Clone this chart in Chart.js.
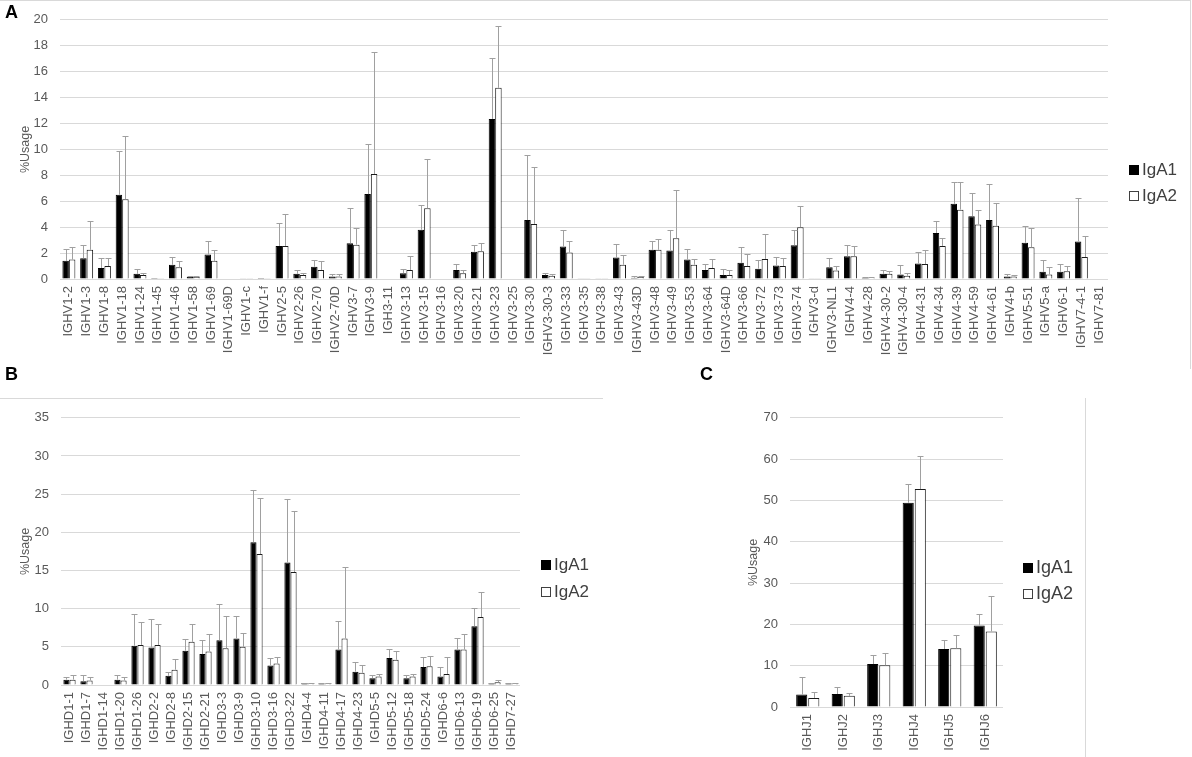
<!DOCTYPE html>
<html>
<head>
<meta charset="utf-8">
<title>%Usage IgA1 / IgA2</title>
<script src="https://cdn.jsdelivr.net/npm/chart.js@4.4.1/dist/chart.umd.min.js"></script>
<style>
  html, body { margin: 0; padding: 0; background: #fff; }
  body { width: 1192px; height: 757px; position: relative; overflow: hidden;
         font-family: "Liberation Sans", Arial, sans-serif; }
  canvas { position: absolute; }
  .frame { position: absolute; border: 0 solid #d9d9d9; }
  .letter { position: absolute; font-weight: bold; font-size: 18px; line-height: 1; color: #000; }
  .legend { position: absolute; font-size: 17px; color: #404040; }
  .legend div { position: absolute; white-space: nowrap; line-height: 20px; height: 20px; }
  .legend span.box { display: inline-block; width: 10px; height: 10px; box-sizing: border-box;
                     margin-right: 3px; vertical-align: 0px; }
</style>
</head>
<body>

<div class="frame" style="left:0;top:0;width:1190px;height:368px;border-top-width:1px;border-right-width:1px;"></div>
<div class="frame" style="left:0;top:398px;width:603px;height:0;border-top-width:1px;"></div>
<div class="frame" style="left:1085px;top:398px;width:0;height:359px;border-left-width:1px;"></div>

<canvas id="chartV" width="1192" height="370" style="left:0;top:0;"></canvas>
<canvas id="chartD" width="603" height="359" style="left:0;top:398px;"></canvas>
<canvas id="chartJ" width="358" height="359" style="left:728px;top:398px;"></canvas>

<div class="letter" style="left:5px;top:3px;">A</div>
<div class="letter" style="left:5px;top:365px;">B</div>
<div class="letter" style="left:700px;top:365px;">C</div>

<div class="legend" style="left:1129px;top:160px;">
  <div style="top:0;"><span class="box" style="background:#000;"></span>IgA1</div>
  <div style="top:26px;"><span class="box" style="background:#fff;border:1px solid #404040;"></span>IgA2</div>
</div>
<div class="legend" style="left:541px;top:555px;">
  <div style="top:0;"><span class="box" style="background:#000;"></span>IgA1</div>
  <div style="top:27px;"><span class="box" style="background:#fff;border:1px solid #404040;"></span>IgA2</div>
</div>
<div class="legend" style="left:1023px;top:557px;font-size:18px;">
  <div style="top:0;"><span class="box" style="background:#000;"></span>IgA1</div>
  <div style="top:26px;"><span class="box" style="background:#fff;border:1px solid #404040;"></span>IgA2</div>
</div>

<script>
// Panel A - IGHV genes
const vGenes = ['IGHV1-2', 'IGHV1-3', 'IGHV1-8', 'IGHV1-18', 'IGHV1-24', 'IGHV1-45', 'IGHV1-46', 'IGHV1-58',
  'IGHV1-69', 'IGHV1-69D', 'IGHV1-c', 'IGHV1-f', 'IGHV2-5', 'IGHV2-26', 'IGHV2-70', 'IGHV2-70D', 'IGHV3-7',
  'IGHV3-9', 'IGH3-11', 'IGHV3-13', 'IGHV3-15', 'IGHV3-16', 'IGHV3-20', 'IGHV3-21', 'IGHV3-23', 'IGHV3-25',
  'IGHV3-30', 'IGHV3-30-3', 'IGHV3-33', 'IGHV3-35', 'IGHV3-38', 'IGHV3-43', 'IGHV3-43D', 'IGHV3-48',
  'IGHV3-49', 'IGHV3-53', 'IGHV3-64', 'IGHV3-64D', 'IGHV3-66', 'IGHV3-72', 'IGHV3-73', 'IGHV3-74', 'IGHV3-d',
  'IGHV3-NL1', 'IGHV4-4', 'IGHV4-28', 'IGHV4-30-2', 'IGHV4-30-4', 'IGHV4-31', 'IGHV4-34', 'IGHV4-39',
  'IGHV4-59', 'IGHV4-61', 'IGHV4-b', 'IGHV5-51', 'IGHV5-a', 'IGHV6-1', 'IGHV7-4-1', 'IGHV7-81'];
const vIgA1 = [1.4, 1.6, 0.85, 6.5, 0.4, 0.08, 1.1, 0.15, 1.9, 0.03, 0.05, 0.07, 2.55, 0.4, 0.95, 0.2, 2.75,
  6.55, 0, 0.45, 3.8, 0.03, 0.7, 2.1, 12.35, 0.03, 4.55, 0.3, 2.5, 0.02, 0.02, 1.65, 0.1, 2.25, 2.2, 1.5, 0.7,
  0.3, 1.25, 0.8, 1.05, 2.6, 0.02, 0.9, 1.75, 0.1, 0.4, 0.35, 1.2, 3.55, 5.8, 4.85, 4.55, 0.2, 2.8, 0.55,
  0.55, 2.9, 0.03];
const vIgA2 = [1.5, 2.25, 1.0, 6.15, 0.3, 0.05, 0.9, 0.15, 1.4, 0.03, 0.05, 0.05, 2.55, 0.3, 0.7, 0.2, 2.65,
  8.1, 0, 0.7, 5.45, 0.03, 0.45, 2.15, 14.75, 0.03, 4.25, 0.25, 2.05, 0.02, 0.02, 1.1, 0.15, 2.25, 3.15, 1.1,
  0.85, 0.3, 1.0, 1.55, 1.0, 4.0, 0.02, 0.65, 1.75, 0.1, 0.4, 0.25, 1.15, 2.55, 5.35, 4.2, 4.1, 0.2, 2.45,
  0.35, 0.6, 1.7, 0.03];
// standard deviations (upper error bar), 0 = no bar
const vIgA1Sd = [0.9, 1.0, 0.75, 3.35, 0.4, 0, 0.6, 0.1, 1.0, 0, 0, 0, 1.8, 0.3, 0.55, 0.15, 2.75,
  3.85, 0, 0.35, 1.9, 0, 0.45, 0.5, 4.7, 0, 5.05, 0.15, 1.25, 0, 0, 1.05, 0.1, 0.65, 1.55, 0.85, 0.45,
  0.5, 1.25, 0.7, 0.65, 1.15, 0, 0.7, 0.9, 0.02, 0.3, 0.7, 0.85, 0.95, 1.7, 1.8, 2.75, 0.15, 1.3, 0.9,
  0.6, 3.35, 0];
const vIgA2Sd = [1.0, 2.25, 0.6, 4.85, 0.2, 0, 0.5, 0.1, 0.8, 0, 0, 0, 2.45, 0.2, 0.7, 0.15, 1.25,
  9.4, 0, 1.1, 3.8, 0, 0.25, 0.65, 4.75, 0, 4.4, 0.1, 0.9, 0, 0, 0.75, 0.05, 0.8, 3.75, 0.45, 0.7,
  0.4, 0.95, 1.95, 0.6, 1.65, 0, 0.35, 0.8, 0.02, 0.2, 0.2, 1.1, 0.6, 2.15, 1.15, 1.8, 0.1, 1.45, 0.55,
  0.4, 1.6, 0];

// Panel B - IGHD genes
const dGenes = ['IGHD1-1', 'IGHD1-7', 'IGHD1-14', 'IGHD1-20', 'IGHD1-26', 'IGHD2-2', 'IGHD2-8', 'IGHD2-15',
  'IGHD2-21', 'IGHD3-3', 'IGHD3-9', 'IGHD3-10', 'IGHD3-16', 'IGHD3-22', 'IGHD4-4', 'IGHD4-11', 'IGHD4-17',
  'IGHD4-23', 'IGHD5-5', 'IGHD5-12', 'IGHD5-18', 'IGHD5-24', 'IGHD6-6', 'IGHD6-13', 'IGHD6-19', 'IGHD6-25',
  'IGHD7-27'];
const dIgA1 = [0.7, 0.5, 0.05, 0.7, 5.15, 4.9, 1.2, 4.5, 4.05, 5.85, 6.1, 18.7, 2.55, 16.05, 0.25, 0.2, 4.65,
  1.75, 0.9, 3.55, 0.9, 2.35, 1.1, 4.65, 7.7, 0.2, 0.2];
const dIgA2 = [0.7, 0.6, 0.05, 0.6, 5.25, 5.25, 2.0, 5.65, 4.4, 4.8, 5.0, 17.15, 2.8, 14.8, 0.2, 0.2, 6.1,
  1.6, 1.1, 3.3, 1.1, 2.45, 1.45, 4.65, 8.9, 0.35, 0.2];
const dIgA1Sd = [0.4, 0.75, 0, 0.65, 4.2, 3.7, 0.55, 1.5, 1.8, 4.8, 3.0, 6.8, 1.0, 8.3, 0.05, 0.05, 3.7,
  1.2, 0.45, 1.2, 0.45, 1.3, 1.25, 1.45, 2.45, 0.1, 0.1];
const dIgA2Sd = [0.55, 0.4, 0, 0.5, 3.05, 2.8, 1.4, 2.4, 2.3, 4.3, 1.75, 7.3, 0.85, 8.0, 0.1, 0.05, 9.35,
  1.0, 0.4, 1.1, 0.4, 1.35, 2.2, 2.05, 3.25, 0.25, 0.1];

// Panel C - IGHJ genes
const jGenes = ['IGHJ1', 'IGHJ2', 'IGHJ3', 'IGHJ4', 'IGHJ5', 'IGHJ6'];
const jIgA1 = [3.0, 3.15, 10.4, 49.45, 14.05, 19.75];
const jIgA2 = [2.2, 2.7, 10.1, 52.75, 14.2, 18.3];
const jIgA1Sd = [4.25, 1.75, 2.1, 4.45, 2.25, 2.85];
const jIgA2Sd = [1.4, 0.6, 3.0, 8.05, 3.3, 8.55];

// y axis ranges [max, step]
const vAxis = [20, 2];
const dAxis = [35, 5];
const jAxis = [70, 10];

const FONT = '"Liberation Sans", Arial, sans-serif';
const GREY_TEXT = '#595959';

// error bars drawn on top of the bars, from the bar top to mean + sd
const errorBars = {
  id: 'errorBars',
  afterDatasetsDraw(chart, args, opts) {
    const ctx = chart.ctx;
    const y = chart.scales.y;
    ctx.save();
    ctx.strokeStyle = '#a0a0a0';
    ctx.lineWidth = 1;
    chart.data.datasets.forEach((ds, i) => {
      if (!ds.sd) return;
      chart.getDatasetMeta(i).data.forEach((bar, j) => {
        const sd = ds.sd[j];
        if (!sd) return;
        const x = Math.round(bar.x) + 0.5;
        const top = Math.round(y.getPixelForValue(ds.data[j] + sd)) + 0.5;
        ctx.beginPath();
        ctx.moveTo(x, bar.y);
        ctx.lineTo(x, top);
        ctx.moveTo(x - opts.cap, top);
        ctx.lineTo(x + opts.cap, top);
        ctx.stroke();
      });
    });
    ctx.restore();
  }
};

function usageChart(id, labels, a1, a2, sd1, sd2, axis, lay) {
  return new Chart(document.getElementById(id), {
    type: 'bar',
    data: {
      labels: labels,
      datasets: [
        { label: 'IgA1', data: a1, sd: sd1, backgroundColor: '#000', borderColor: '#000', borderWidth: 1 },
        { label: 'IgA2', data: a2, sd: sd2, backgroundColor: '#fff', borderColor: '#1a1a1a', borderWidth: 1 }
      ]
    },
    options: {
      responsive: false,
      animation: false,
      devicePixelRatio: 1,
      categoryPercentage: lay.cat,
      barPercentage: lay.bar,
      layout: { padding: { top: lay.top, right: lay.right, left: 0, bottom: 0 } },
      plugins: {
        legend: { display: false },
        tooltip: { enabled: false },
        errorBars: { cap: lay.cap }
      },
      scales: {
        x: {
          grid: { display: false, drawTicks: false },
          border: { display: false },
          ticks: {
            autoSkip: false, minRotation: 90, maxRotation: 90, padding: 7,
            color: GREY_TEXT, font: { family: FONT, size: 13 }
          },
          afterFit: s => { s.height = lay.xh; }
        },
        y: {
          min: 0,
          max: axis[0],
          grid: { color: '#d9d9d9', drawTicks: false },
          border: { display: false },
          ticks: { stepSize: axis[1], padding: 12, color: GREY_TEXT, font: { family: FONT, size: 13 } },
          title: {
            display: true, text: '%Usage', color: GREY_TEXT,
            font: { family: FONT, size: 12.5 }, padding: { top: 18, bottom: 0 }
          },
          afterFit: s => { s.width = lay.yw; }
        }
      }
    },
    plugins: [errorBars]
  });
}

document.addEventListener('DOMContentLoaded', function() {
  usageChart('chartV', vGenes, vIgA1, vIgA2, vIgA1Sd, vIgA2Sd, vAxis,
    { top: 14, right: 84, yw: 60, xh: 91, cat: 0.73, bar: 1.0, cap: 3 });
  usageChart('chartD', dGenes, dIgA1, dIgA2, dIgA1Sd, dIgA2Sd, dAxis,
    { top: 11, right: 83, yw: 61, xh: 72, cat: 0.72, bar: 1.0, cap: 3 });
  usageChart('chartJ', jGenes, jIgA1, jIgA2, jIgA1Sd, jIgA2Sd, jAxis,
    { top: 14, right: 83, yw: 62, xh: 50, cat: 0.68, bar: 0.92, cap: 3 });
});
</script>
</body>
</html>
